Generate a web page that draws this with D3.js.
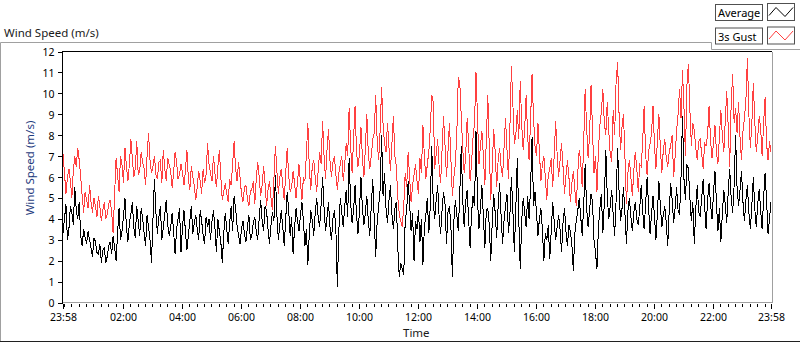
<!DOCTYPE html>
<html>
<head>
<meta charset="utf-8">
<script src="https://cdn.jsdelivr.net/npm/d3@7"></script>
<style>
  body { margin: 0; background: #fff; }
  svg text { font-family: "Noto Sans", "DejaVu Sans", sans-serif; }
</style>
</head>
<body>
<svg id="chart" width="800" height="342"></svg>
<script>
// samples every 3 minutes from 23:58 to 23:58 next day
var startTime = new Date(2024, 0, 1, 23, 58);
var stepMinutes = 3;
var yTicks = [0, 1, 2, 3, 4, 5, 6, 7, 8, 9, 10, 11, 12];
var seriesNames = ["Average", "3s Gust"];
var seriesColors = ["#000000", "#ff4040"];

var average = [
  3.3,4.0,4.7,3.0,3.5,4.6,4.3,3.7,5.5,4.4,4.0,4.8,3.2,2.7,3.5,3.1,2.8,3.4,3.0,2.6,
  2.2,3.1,2.9,2.4,2.3,2.8,1.9,2.5,2.6,1.9,2.2,2.7,2.9,2.3,3.2,2.6,2.0,3.3,4.5,3.0,
  3.4,4.1,5.0,3.6,2.9,3.8,4.2,4.8,3.6,3.1,4.6,3.9,3.2,4.5,4.0,3.3,2.7,4.2,3.6,3.0,
  1.9,4.0,5.9,4.3,3.3,4.1,4.6,3.0,3.6,4.2,4.9,3.7,3.2,3.6,4.3,3.4,2.3,3.5,4.0,4.5,
  2.4,3.6,4.4,3.4,2.5,3.2,3.9,4.6,3.3,3.8,4.2,3.5,3.0,4.4,3.9,3.2,2.8,4.1,3.6,4.0,
  3.0,3.9,4.4,3.6,2.4,4.0,3.4,2.9,1.9,3.3,4.3,3.5,2.8,3.8,4.6,3.4,5.1,4.5,3.7,3.2,
  2.8,3.5,3.9,3.3,2.9,3.6,4.2,3.0,3.2,3.8,4.1,3.4,3.0,4.0,4.9,3.9,3.4,4.6,4.4,3.5,
  2.8,3.7,4.3,3.9,6.1,4.2,3.0,3.7,4.4,3.6,2.7,4.0,5.3,4.4,3.2,4.1,2.3,3.6,4.5,3.9,
  3.4,4.2,4.8,3.9,2.7,3.5,1.8,3.3,4.4,3.9,3.2,4.3,5.0,4.1,3.6,4.7,6.0,4.5,3.4,4.1,
  4.8,3.6,3.0,4.0,4.4,3.5,0.75,3.4,5.0,4.3,3.6,4.6,5.4,4.1,6.9,4.8,3.8,4.4,5.6,4.2,
  3.3,4.4,6.0,4.5,3.7,4.3,5.1,3.9,3.2,4.6,5.9,4.0,2.2,3.9,4.6,5.4,8.0,5.1,6.2,4.5,
  3.8,4.9,5.6,4.2,3.5,4.5,4.8,2.6,1.2,1.9,1.6,1.3,3.9,4.4,5.8,4.7,3.4,4.3,2.0,3.9,
  3.5,4.4,2.9,4.0,1.8,3.6,4.2,5.0,3.3,4.6,7.5,4.8,4.0,4.9,5.6,4.1,3.3,4.4,5.3,4.7,
  2.8,4.3,4.6,3.6,1.2,3.9,4.9,4.2,3.4,5.2,7.5,4.9,3.6,4.8,5.4,4.0,2.6,4.3,5.1,4.6,
  8.2,5.0,3.5,4.5,5.6,4.1,2.6,4.4,4.5,3.7,2.0,3.8,5.2,4.3,3.1,4.6,5.7,4.2,2.8,3.9,
  4.6,5.2,3.3,4.2,6.0,4.4,2.4,4.5,6.9,4.0,1.6,3.9,5.0,4.3,3.6,5.1,4.0,5.5,7.9,4.6,
  5.3,4.3,3.2,4.0,4.5,3.5,2.0,3.3,3.0,3.7,2.1,3.4,4.8,3.9,3.0,3.6,4.2,3.5,2.4,3.8,
  4.5,3.4,2.7,3.7,3.4,2.8,1.5,3.3,3.9,4.4,5.0,4.1,3.2,4.6,6.6,4.5,3.6,4.4,5.2,4.8,
  3.0,2.4,1.6,3.6,4.5,5.2,3.3,4.8,7.3,5.1,4.0,4.6,5.4,4.2,3.2,4.9,7.4,5.3,3.9,4.5,
  5.5,4.2,2.8,4.4,5.0,4.1,3.4,4.3,4.8,4.0,3.7,4.5,5.6,4.4,3.5,4.7,6.0,4.6,3.3,4.2,
  5.1,4.1,3.0,4.3,5.8,4.6,3.6,4.2,4.6,3.8,2.7,4.4,5.7,4.9,3.8,4.5,5.5,4.4,4.2,6.0,
  8.9,5.9,4.9,6.6,6.4,5.0,3.9,4.8,2.8,4.5,5.6,4.3,4.1,5.0,5.9,4.6,3.5,4.9,5.7,4.7,
  4.0,5.2,6.3,4.8,3.4,4.5,2.9,4.2,5.4,4.7,3.8,5.3,6.4,5.0,4.3,5.6,8.0,5.5,4.6,5.4,
  6.3,4.8,3.9,4.9,5.6,4.3,3.5,4.6,6.0,4.5,3.6,4.7,5.4,4.4,3.5,5.0,6.2,4.9,3.3,4.0,
  4.8
];

var gust = [
  7.1,6.2,5.2,6.0,6.4,5.8,5.0,6.3,7.0,6.5,7.4,6.8,6.0,5.1,4.3,5.3,4.9,4.5,5.6,4.8,
  4.3,5.0,4.6,4.1,5.1,4.6,3.9,4.4,4.8,4.0,4.2,4.7,4.9,4.3,3.3,5.2,6.9,6.1,5.3,7.0,
  6.6,5.7,7.4,6.5,5.8,6.6,7.8,6.9,6.0,6.4,7.7,6.1,6.3,7.2,6.7,6.4,5.6,7.0,8.1,6.8,
  6.2,6.5,7.0,6.1,5.9,6.7,6.8,5.7,7.3,6.4,5.8,6.9,6.6,6.3,5.5,6.2,7.2,6.7,5.9,6.1,
  6.6,6.2,5.6,6.3,7.3,5.9,5.4,6.5,6.0,5.6,4.9,5.5,6.3,5.8,5.2,6.4,5.7,6.1,7.6,6.6,
  6.2,5.8,7.0,6.2,5.5,6.5,7.3,6.0,4.9,5.3,5.7,5.2,4.8,5.9,5.6,6.6,7.7,6.4,5.8,6.7,
  6.0,5.2,4.8,5.5,5.6,5.0,4.6,5.3,5.4,5.8,4.7,5.9,6.7,6.0,5.1,5.6,6.5,5.7,4.6,5.4,
  5.8,5.0,4.4,5.9,7.5,6.3,5.2,6.0,6.4,5.6,4.9,6.2,7.4,6.1,5.3,5.5,6.3,5.7,5.0,5.8,
  6.6,5.7,4.9,6.0,5.8,7.1,8.6,6.4,5.4,6.5,6.8,6.0,5.3,6.3,7.2,6.6,8.7,7.0,5.9,7.3,
  8.3,6.8,6.0,6.7,7.0,6.1,5.4,6.2,6.6,7.0,5.8,6.6,7.6,7.0,9.3,7.5,6.2,7.8,9.4,7.2,
  6.5,7.1,8.4,6.9,6.0,7.4,9.0,7.1,6.4,7.0,7.8,8.1,9.9,7.7,6.8,8.2,10.3,8.5,7.6,7.2,
  8.6,7.4,6.3,7.6,8.9,7.0,6.5,5.0,4.2,3.9,3.6,4.6,6.2,5.5,7.2,6.0,4.8,5.6,6.1,6.6,
  5.8,5.2,6.9,6.2,8.5,7.0,5.9,6.6,7.2,8.3,9.9,9.6,6.4,7.1,7.8,6.5,5.7,7.3,8.9,7.5,
  6.0,7.2,8.6,6.8,5.1,6.0,6.6,8.1,10.8,10.5,8.9,7.4,6.2,7.0,8.8,7.6,5.8,6.7,7.9,8.6,
  11.0,8.9,6.6,7.5,8.2,7.0,5.6,7.8,9.9,7.4,4.9,6.4,8.3,7.2,5.5,6.8,7.4,6.5,6.0,7.4,
  8.8,7.3,5.9,8.4,11.3,9.5,7.6,8.0,9.2,7.8,10.6,8.5,7.3,8.3,9.9,8.0,6.8,8.7,10.9,8.8,
  7.5,7.0,8.6,7.2,5.8,6.6,7.0,6.0,4.9,6.1,6.4,6.9,5.5,7.0,8.7,7.1,6.0,6.8,7.6,6.5,
  5.2,6.1,6.8,6.0,4.8,5.7,6.3,5.4,4.6,6.2,7.3,6.7,5.5,7.6,10.2,8.4,6.9,8.0,10.4,8.2,
  6.2,7.0,5.3,7.3,8.5,9.1,10.2,8.6,8.0,9.6,8.2,7.1,6.7,9.2,8.0,10.6,11.5,9.0,7.3,8.4,
  9.0,6.9,4.7,6.2,6.8,6.0,5.1,6.3,7.2,6.4,5.3,6.6,6.5,7.7,9.4,7.1,6.1,7.2,7.6,8.1,
  9.4,7.5,6.4,7.8,9.0,7.4,6.2,7.3,7.8,6.9,6.5,7.2,7.5,8.0,6.0,7.0,8.2,9.0,10.2,8.8,
  11.1,9.3,7.0,10.4,11.4,9.2,7.5,8.6,8.2,7.4,6.8,7.7,7.8,7.1,6.4,7.6,7.5,8.0,9.4,7.8,
  6.9,7.6,8.5,7.2,6.6,7.9,9.2,8.0,7.2,8.7,10.1,8.4,6.5,9.5,10.9,8.6,9.3,8.1,9.6,7.9,
  6.8,8.2,8.8,9.7,11.7,9.0,7.4,8.5,10.5,8.7,7.2,7.9,8.9,8.3,7.0,8.6,9.8,7.6,6.8,7.7,
  7.2
];

var svg = d3.select("#chart");
var endTime = d3.timeHour.offset(startTime, 24);
var timeAt = function(i) { return d3.timeMinute.offset(startTime, i * stepMinutes); };

var x = d3.scaleTime().domain([startTime, endTime]).range([63, 771]);
var y = d3.scaleLinear().domain([0, 12]).range([302.5, 51.5]);

// panel outline
svg.append("path").attr("fill", "none").attr("stroke", "#a0a0a0")
  .attr("d", "M0.5,341V42.5H711.5V49.5H800");
svg.append("line").attr("x1", 0).attr("x2", 800).attr("y1", 341.5).attr("y2", 341.5).attr("stroke", "#202020");

svg.append("text").attr("x", 4).attr("y", 36.5).attr("font-size", "11.5px").attr("fill", "#1a1a1a")
  .text("Wind Speed (m/s)");

// data lines, gust under average
var line = d3.line()
  .x(function(d, i) { return x(timeAt(i)); })
  .y(function(d) { return y(d); });

var plots = svg.append("g");
[gust, average].forEach(function(s, k) {
  plots.append("path")
    .datum(s)
    .attr("fill", "none")
    .attr("stroke", k == 0 ? seriesColors[1] : seriesColors[0])
    .attr("stroke-width", 1)
    .attr("shape-rendering", "crispEdges")
    .attr("d", line);
});

// plot frame
svg.append("path").attr("fill", "none").attr("stroke", "#000").attr("shape-rendering", "crispEdges")
  .attr("d", "M62.5,302.5V51.5H772");
svg.append("path").attr("fill", "none").attr("stroke", "#a0a0a0").attr("shape-rendering", "crispEdges")
  .attr("d", "M772.5,51.5V302.5H63");

// y axis
var yAxis = svg.append("g")
  .attr("transform", "translate(62.5,0)")
  .call(d3.axisLeft(y).tickValues(yTicks).tickSize(5).tickPadding(3));
yAxis.select(".domain").remove();
yAxis.selectAll("text").attr("font-size", "10.5px").attr("fill", "#000").attr("dy", "0.38em")
  .style("font-family", "'Noto Sans', sans-serif");
yAxis.selectAll("line").attr("stroke", "#000");

svg.append("text")
  .attr("transform", "translate(34,168) rotate(-90)")
  .attr("text-anchor", "middle")
  .attr("font-size", "11.5px")
  .attr("fill", "#1f3c80")
  .text("Wind Speed (m/s)");

// x axis: majors every 2h plus both ends, minors every 15 min
var majors = [startTime].concat(d3.timeHour.every(2).range(d3.timeHour.offset(startTime, 1), endTime)).concat([endTime]);
var minors = d3.timeMinute.every(15).range(startTime, endTime);

var xMinor = svg.append("g").attr("transform", "translate(0,304)")
  .call(d3.axisBottom(x).tickValues(minors).tickSize(3).tickFormat(""));
xMinor.select(".domain").remove();

var xAxis = svg.append("g").attr("transform", "translate(0,304)")
  .call(d3.axisBottom(x).tickValues(majors).tickSize(5).tickPadding(5).tickFormat(d3.timeFormat("%H:%M")));
xAxis.select(".domain").remove();
xAxis.selectAll("text").attr("font-size", "10.5px").attr("fill", "#000")
  .style("font-family", "'Noto Sans', sans-serif");
svg.selectAll(".tick line").attr("shape-rendering", "crispEdges");

svg.append("text").attr("x", 403).attr("y", 336.5).attr("font-size", "11.5px").attr("fill", "#1a1a1a")
  .text("Time");

// legend
var legend = svg.append("g");
seriesNames.forEach(function(name, i) {
  var top = 3.5 + i * 23.5;
  legend.append("rect").attr("x", 715.5).attr("y", top + 1).attr("width", 47).attr("height", 16)
    .attr("fill", "#fff").attr("stroke", "#505050");
  legend.append("text").attr("x", 718).attr("y", top + 13.5).attr("font-size", "11px").attr("fill", "#000")
    .text(name);
  legend.append("rect").attr("x", 767.5).attr("y", top).attr("width", 27).attr("height", 17)
    .attr("fill", "#fff").attr("stroke", "#505050");
  legend.append("polyline")
    .attr("points", [[769, top + 12], [776, top + 4], [785, top + 13], [793, top + 4]].join(" "))
    .attr("fill", "none").attr("stroke", seriesColors[i]);
});
</script>
</body>
</html>
